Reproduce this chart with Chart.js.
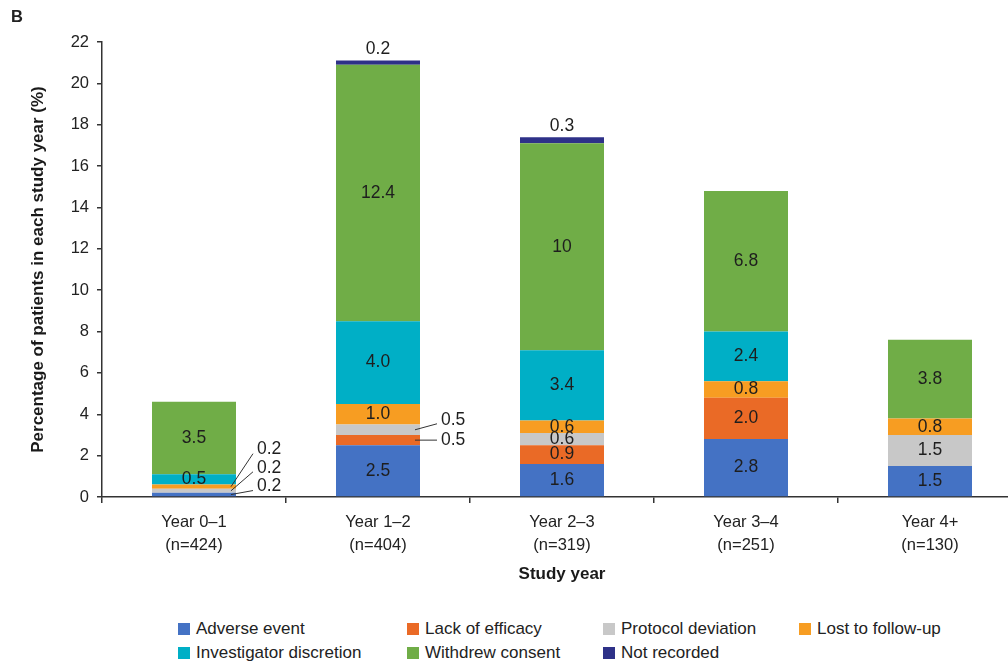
<!DOCTYPE html>
<html lang="en">
<head>
  <meta charset="UTF-8" />
  <title>Discontinuations by study year</title>
  <script src="https://cdn.jsdelivr.net/npm/chart.js"></script>
  <style>
    html, body {
      margin: 0;
      padding: 0;
      background: #fff;
      width: 1008px;
      height: 662px;
      overflow: hidden;
      font-family: "Liberation Sans", Arial, sans-serif;
      color: #222;
    }
    .wrap {
      position: absolute;
      left: 0;
      top: 0;
      width: 1030px;
      height: 600px;
    }
    .panel {
      position: absolute;
      left: 11px;
      top: 7px;
      font-size: 16.5px;
      font-weight: bold;
    }
    .legend-item {
      position: absolute;
      font-size: 17px;
      line-height: 20px;
      white-space: nowrap;
    }
    .legend-item span {
      display: inline-block;
      width: 12px;
      height: 12px;
      margin-right: 6px;
      vertical-align: -1px;
    }
  </style>
</head>
<body>
  <div class="wrap"><canvas id="chart" width="1030" height="600"></canvas></div>
  <div class="panel">B</div>
  <div id="legend"></div>

  <script>
    const categories = [
      ['Year 0–1', '(n=424)'],
      ['Year 1–2', '(n=404)'],
      ['Year 2–3', '(n=319)'],
      ['Year 3–4', '(n=251)'],
      ['Year 4+', '(n=130)']
    ];
    const adverseEvent = [0.2, 2.5, 1.6, 2.8, 1.5];
    const lackOfEfficacy = [null, 0.5, 0.9, 2.0, null];
    const protocolDeviation = [0.2, 0.5, 0.6, null, 1.5];
    const lostToFollowUp = [0.2, 1.0, 0.6, 0.8, 0.8];
    const investigatorDiscretion = [0.5, 4.0, 3.4, 2.4, null];
    const withdrewConsent = [3.5, 12.4, 10, 6.8, 3.8];
    const notRecorded = [null, 0.2, 0.3, null, null];
    const yTicks = [0, 2, 4, 6, 8, 10, 12, 14, 16, 18, 20, 22];

    const series = [
      { label: 'Adverse event', data: adverseEvent, color: '#4472C4' },
      { label: 'Lack of efficacy', data: lackOfEfficacy, color: '#EA6A26' },
      { label: 'Protocol deviation', data: protocolDeviation, color: '#C8C8C8' },
      { label: 'Lost to follow-up', data: lostToFollowUp, color: '#F79D22' },
      { label: 'Investigator discretion', data: investigatorDiscretion, color: '#00AFC6' },
      { label: 'Withdrew consent', data: withdrewConsent, color: '#70AD47' },
      { label: 'Not recorded', data: notRecorded, color: '#2E3188' }
    ];

    // small segments labelled beside the bar with a leader line (dy = px from segment centre)
    const callouts = [
      { cat: 0, ds: 3, dy: -37 },
      { cat: 0, ds: 2, dy: -23 },
      { cat: 0, ds: 0, dy: -8 },
      { cat: 1, ds: 2, dy: -10 },
      { cat: 1, ds: 1, dy: 0 }
    ];
    const aboveBar = 6; // "Not recorded" values go above the bar

    const axisColor = '#333';
    const font = '"Liberation Sans", Arial, sans-serif';

    function fmt(v) {
      return (Number.isInteger(v) && v >= 10) ? String(v) : v.toFixed(1);
    }

    const valueLabels = {
      id: 'valueLabels',
      afterDatasetsDraw(chart) {
        const ctx = chart.ctx;
        ctx.save();
        ctx.font = '17.5px ' + font;
        ctx.fillStyle = '#1e1e1e';
        ctx.strokeStyle = '#333';
        ctx.lineWidth = 1;
        ctx.textBaseline = 'middle';
        chart.data.datasets.forEach((ds, i) => {
          const meta = chart.getDatasetMeta(i);
          ds.data.forEach((v, j) => {
            if (v == null) return;
            const el = meta.data[j];
            const cy = (el.y + el.base) / 2;
            const right = el.x + el.width / 2;
            const co = callouts.find(c => c.cat === j && c.ds === i);
            if (co) {
              const ty = cy + co.dy;
              ctx.beginPath();
              ctx.moveTo(right - 5, cy);
              ctx.lineTo(right + 17, co.dy === 0 ? ty : ty + 4);
              ctx.stroke();
              ctx.textAlign = 'left';
              ctx.fillText(fmt(v), right + 21, ty);
            } else if (i === aboveBar) {
              ctx.textAlign = 'center';
              ctx.fillText(fmt(v), el.x, el.y - 11);
            } else {
              ctx.textAlign = 'center';
              ctx.fillText(fmt(v), el.x, cy);
            }
          });
        });
        ctx.restore();
      }
    };

    new Chart(document.getElementById('chart'), {
      type: 'bar',
      data: {
        labels: categories,
        datasets: series.map(s => ({
          label: s.label,
          data: s.data,
          backgroundColor: s.color,
          borderWidth: 0,
          barPercentage: 0.4565,
          categoryPercentage: 1
        }))
      },
      options: {
        responsive: false,
        animation: false,
        events: [],
        layout: { padding: { top: 42, right: 8, left: 0, bottom: 0 } },
        plugins: {
          legend: { display: false },
          tooltip: { enabled: false }
        },
        scales: {
          x: {
            stacked: true,
            afterFit(scale) { scale.height = 103; },
            grid: { drawOnChartArea: false, drawTicks: true, tickLength: 6, color: axisColor, lineWidth: 1.5 },
            border: { color: axisColor, width: 1.5 },
            ticks: {
              color: '#222',
              padding: 8,
              maxRotation: 0,
              font: { family: font, size: 16.5, lineHeight: 1.4 }
            },
            title: {
              display: true,
              text: 'Study year',
              color: '#1a1a1a',
              padding: { top: 0, bottom: 15 },
              font: { family: font, size: 17, weight: 'bold' }
            }
          },
          y: {
            stacked: true,
            min: 0,
            max: 22,
            afterFit(scale) { scale.width = 102; },
            afterBuildTicks(scale) { scale.ticks = yTicks.map(v => ({ value: v })); },
            grid: { drawOnChartArea: false, drawTicks: true, tickLength: 5, color: axisColor, lineWidth: 1.5 },
            border: { color: axisColor, width: 1.5 },
            ticks: {
              color: '#222',
              padding: 8,
              font: { family: font, size: 16.5 }
            },
            title: {
              display: true,
              text: 'Percentage of patients in each study year (%)',
              color: '#1a1a1a',
              padding: { top: 28, bottom: 0 },
              font: { family: font, size: 17, weight: 'bold' }
            }
          }
        }
      },
      plugins: [valueLabels]
    });

    // legend laid out in two aligned rows
    const legendCols = [178, 407, 603, 799];
    const legendRows = [629, 653];
    const legend = document.getElementById('legend');
    series.forEach((s, k) => {
      const item = document.createElement('div');
      item.className = 'legend-item';
      item.style.left = legendCols[k % 4] + 'px';
      item.style.top = (legendRows[Math.floor(k / 4)] - 10) + 'px';
      item.innerHTML = '<span style="background:' + s.color + '"></span>' + s.label;
      legend.appendChild(item);
    });
  </script>
</body>
</html>
